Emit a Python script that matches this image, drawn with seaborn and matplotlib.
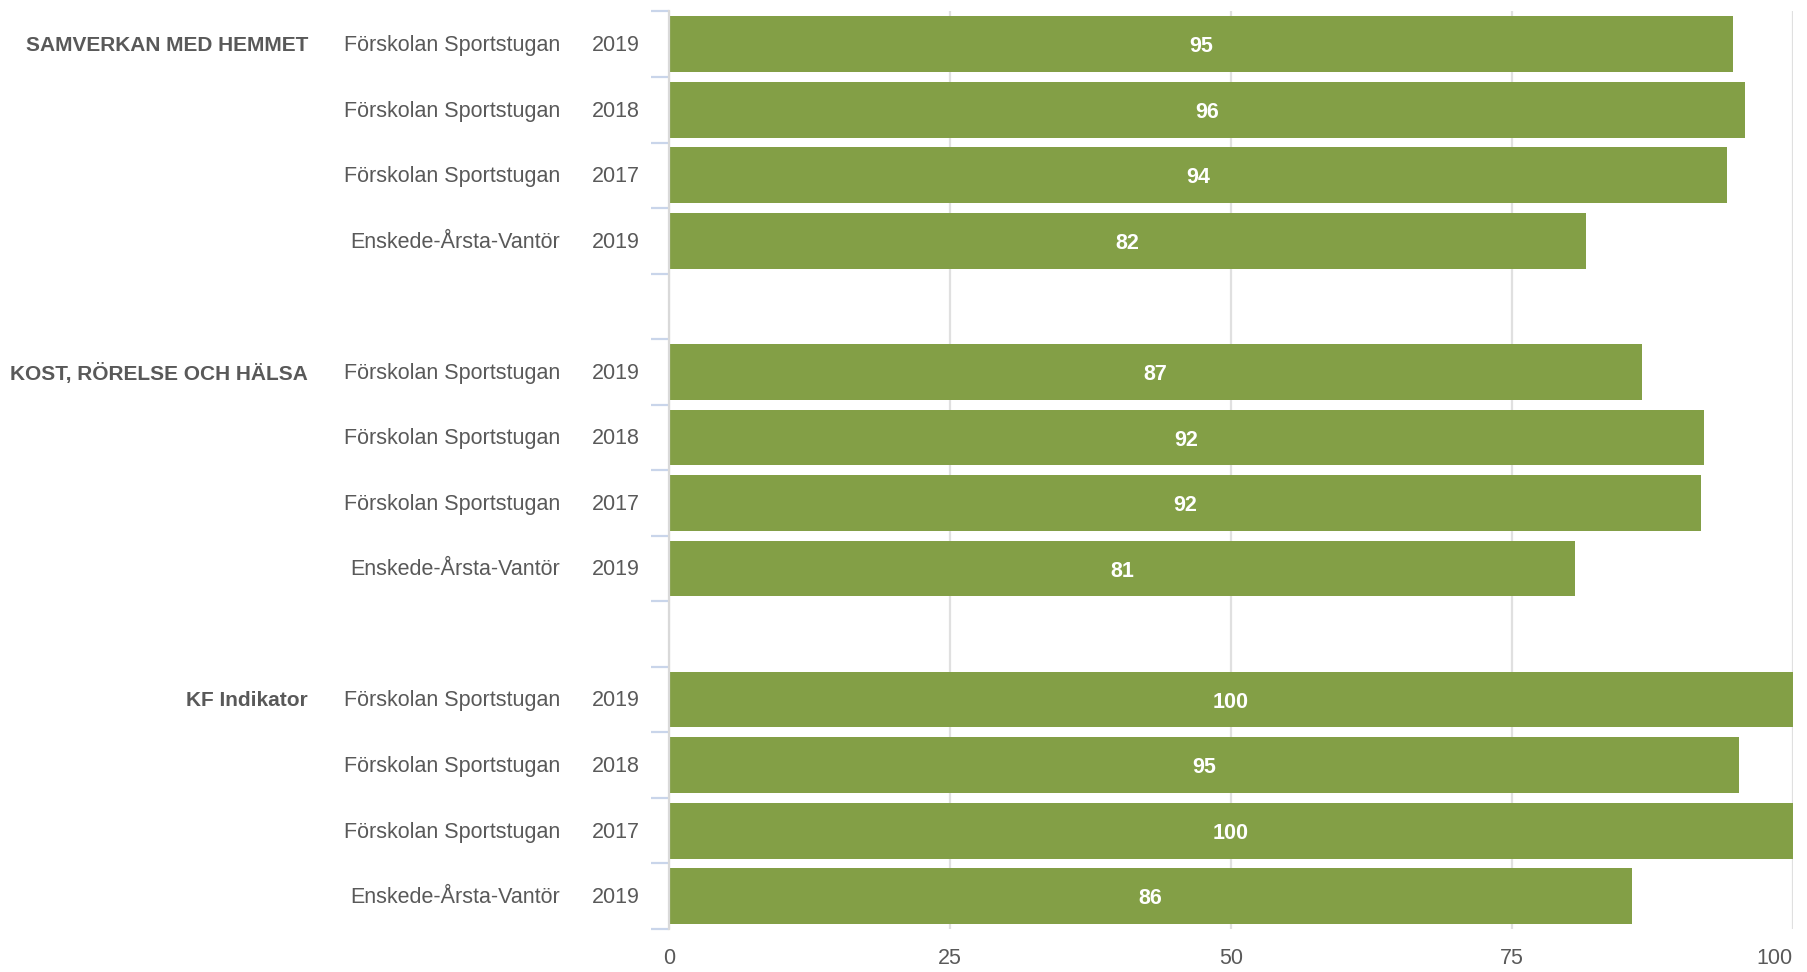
import numpy as np
import pandas as pd
import matplotlib.pyplot as plt
import matplotlib.transforms as mtransforms
import seaborn as sns

groups = ['SAMVERKAN MED HEMMET', 'KOST, RÖRELSE OCH HÄLSA', 'KF Indikator']
units = ['Förskolan Sportstugan', 'Förskolan Sportstugan', 'Förskolan Sportstugan', 'Enskede-Årsta-Vantör']
years = ['2019', '2018', '2017', '2019']
values = [
    [94.7, 95.7, 94.1, 81.6],
    [86.6, 92.1, 91.8, 80.6],
    [100.0, 95.2, 100.0, 85.7],
]
x_ticks = [0, 25, 50, 75, 100]

bar_color = '#839f46'
text_color = '#595959'

sns.set_theme(style='white')
plt.rcParams['font.family'] = ['Liberation Sans', 'DejaVu Sans']
plt.rcParams['font.size'] = 15.5

# one row per bar, plus an empty slot between groups
rows = []
order = []
for gi, g in enumerate(groups):
    for ri in range(len(units)):
        key = f'{gi}-{ri}'
        rows.append({'key': key, 'group': g, 'unit': units[ri], 'year': years[ri], 'value': values[gi][ri]})
        order.append(key)
    if gi < len(groups) - 1:
        order.append(f'gap{gi}')
df = pd.DataFrame(rows)

fig = plt.figure(figsize=(18.08, 9.72), dpi=100)
ax = fig.add_axes([669 / 1808, 1 - 929 / 972, (1793 - 669) / 1808, (929 - 11.5) / 972])

ax.set_axisbelow(True)
ax.grid(axis='x', color='#e0e0e0', linewidth=1.6)
ax.grid(axis='y', visible=False)

sns.barplot(data=df, x='value', y='key', order=order, color=bar_color, saturation=1,
            width=0.85, linewidth=0, ax=ax)

ax.set_xlim(0, 100)
ax.set_ylim(len(order) - 0.5, -0.5)
ax.set_xticks(x_ticks)
ax.set_xticklabels([str(t) for t in x_ticks], color=text_color, fontsize=15.5)
ax.get_xticklabels()[-1].set_ha('right')
ax.tick_params(axis='x', length=0, pad=14)
ax.set_yticks(np.arange(-0.5, len(order), 1))
ax.set_yticklabels([])
ax.tick_params(axis='y', length=13, width=1.6, color='#c9d5ea', left=True)
ax.set_xlabel('')
ax.set_ylabel('')

for s in ['top', 'right', 'bottom']:
    ax.spines[s].set_visible(False)
ax.spines['left'].set_color('#d9d9d9')
ax.spines['left'].set_linewidth(1.6)

trans = mtransforms.blended_transform_factory(fig.transFigure, ax.transData)
for _, r in df.iterrows():
    pos = order.index(r['key'])
    ax.text(r['value'] / 2, pos + 0.04, f"{r['value']:.0f}", ha='center', va='center',
            color='white', fontweight='bold', fontsize=15.5)
    ax.text(560 / 1808, pos + 0.02, r['unit'], transform=trans, ha='right', va='center', color=text_color)
    ax.text(640 / 1808, pos + 0.02, r['year'], transform=trans, ha='right', va='center', color=text_color)
    if r['key'].endswith('-0'):
        ax.text(308 / 1808, pos + 0.02, r['group'], transform=trans, ha='right', va='center',
                color=text_color, fontweight='bold', fontsize=15)

fig.savefig('out.png', dpi=100)
